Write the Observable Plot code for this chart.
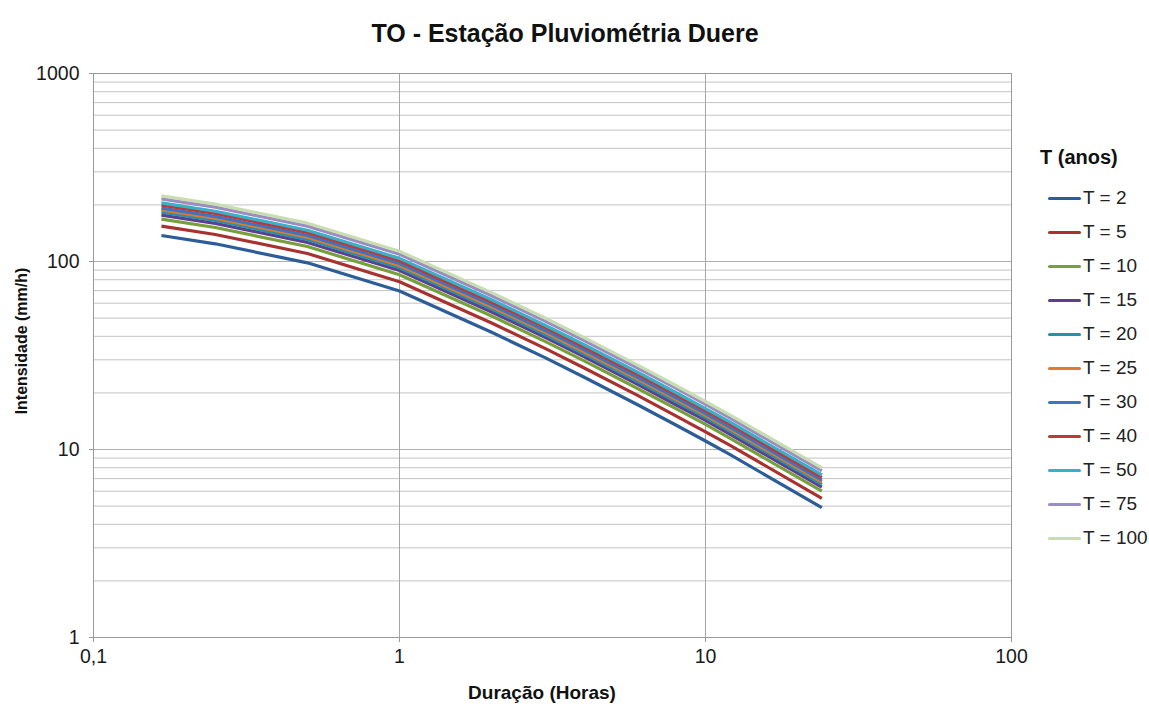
<!DOCTYPE html>
<html>
<head>
<meta charset="utf-8">
<script src="https://cdn.jsdelivr.net/npm/d3@7"></script>
<script src="https://cdn.jsdelivr.net/npm/@observablehq/plot@0.6"></script>
<style>
  body { margin: 0; background: #fff; font-family: "Liberation Sans", Arial, sans-serif; }
  #wrap { position: relative; width: 1149px; height: 706px; overflow: hidden; }
  #chart { position: absolute; left: 0; top: 0; }
  .title { position: absolute; left: 565px; top: 33px; transform: translate(-50%, -50%); font-weight: bold; font-size: 25px; color: #111; white-space: nowrap; }
  .ytitle { position: absolute; left: 22px; top: 341px; transform: translate(-50%, -50%) rotate(-90deg); font-weight: bold; font-size: 16px; color: #111; white-space: nowrap; }
  .xtitle { position: absolute; left: 542px; top: 693px; transform: translate(-50%, -50%); font-weight: bold; font-size: 19px; color: #111; white-space: nowrap; }
  #legend { position: absolute; left: 1040px; top: 146px; }
  .lgtitle { font-weight: bold; font-size: 20px; color: #111; white-space: nowrap; }
  .lgitem { position: absolute; left: 8px; height: 20px; display: flex; align-items: center; font-size: 19px; color: #222; white-space: nowrap; }
  .sw { width: 33px; height: 3px; border-radius: 1.5px; margin-right: 2px; }
</style>
</head>
<body>
<div id="wrap">
  <div id="chart"></div>
  <div class="title">TO - Estação Pluviométria Duere</div>
  <div class="ytitle">Intensidade (mm/h)</div>
  <div class="xtitle">Duração (Horas)</div>
  <div id="legend"></div>
</div>
<script>
// Durations (hours): 10, 15, 30 min, 1, 2, 3, 4, 6, 8, 10, 12, 24 h
const durations = [0.1667, 0.25, 0.5, 1, 2, 3, 4, 6, 8, 10, 12, 24];

const seriesNames = ["T = 2", "T = 5", "T = 10", "T = 15", "T = 20", "T = 25", "T = 30", "T = 40", "T = 50", "T = 75", "T = 100"];
const seriesColors = ["#2c5d98", "#a8322f", "#77a03c", "#5e3e8e", "#2b8fa8", "#e07b2c", "#3f74c2", "#b83b39", "#3aafc8", "#9c8cc4", "#c8ddb0"];

const T2   = [137.5, 124.2,  98.4,  69.7, 42.0, 30.7, 24.3, 17.3, 13.5, 11.1,  9.41, 4.91];
const T5   = [154.1, 139.2, 110.3,  78.1, 47.1, 34.4, 27.2, 19.4, 15.1, 12.4, 10.55, 5.50];
const T10  = [167.9, 151.6, 120.1,  85.1, 51.3, 37.5, 29.7, 21.1, 16.5, 13.6, 11.49, 6.00];
const T15  = [176.6, 159.5, 126.3,  89.5, 53.9, 39.4, 31.2, 22.2, 17.3, 14.3, 12.08, 6.30];
const T20  = [182.9, 165.2, 130.9,  92.7, 55.9, 40.8, 32.3, 23.0, 18.0, 14.8, 12.52, 6.53];
const T25  = [188.1, 169.9, 134.6,  95.3, 57.5, 42.0, 33.2, 23.7, 18.5, 15.2, 12.87, 6.72];
const T30  = [192.4, 173.8, 137.7,  97.5, 58.8, 42.9, 34.0, 24.2, 18.9, 15.5, 13.16, 6.87];
const T40  = [199.2, 180.0, 142.6, 101.0, 60.9, 44.5, 35.2, 25.1, 19.6, 16.1, 13.64, 7.11];
const T50  = [204.9, 185.1, 146.6, 103.9, 62.6, 45.7, 36.2, 25.8, 20.1, 16.5, 14.02, 7.32];
const T75  = [215.5, 194.6, 154.2, 109.2, 65.8, 48.1, 38.1, 27.1, 21.2, 17.4, 14.75, 7.69];
const T100 = [223.4, 201.8, 159.9, 113.3, 68.3, 49.9, 39.5, 28.1, 21.9, 18.0, 15.29, 7.98];

const xTicks = [0.1, 1, 10, 100];
const yTicks = [1, 10, 100, 1000];
const xTickLabels = ["0,1", "1", "10", "100"];
const yTickLabels = ["1", "10", "100", "1000"];

const allSeries = [T2, T5, T10, T15, T20, T25, T30, T40, T50, T75, T100];
const data = [];
allSeries.forEach((vals, i) => {
  vals.forEach((v, j) => data.push({ series: seriesNames[i], dur: durations[j], val: v }));
});

// minor horizontal gridlines (2..9 within each decade)
const yMinor = [];
yTicks.slice(0, -1).forEach(d => { for (let k = 2; k <= 9; k++) yMinor.push(d * k); });

const chart = Plot.plot({
  width: 1149,
  height: 706,
  marginLeft: 93,
  marginRight: 138,
  marginTop: 73,
  marginBottom: 69,
  style: { fontFamily: "'Liberation Sans', Arial, sans-serif", background: "transparent", color: "#1a1a1a" },
  x: { type: "log", domain: [0.1, 100] },
  y: { type: "log", domain: [1, 1000] },
  color: { domain: seriesNames, range: seriesColors },
  marks: [
    Plot.gridY(yMinor, { stroke: "#c4c4c4", strokeOpacity: 1, strokeWidth: 1 }),
    Plot.gridY(yTicks, { stroke: "#b0b0b0", strokeOpacity: 1, strokeWidth: 1 }),
    Plot.gridX(xTicks, { stroke: "#a6a6a6", strokeOpacity: 1, strokeWidth: 1 }),
    Plot.frame({ stroke: "#9a9a9a", strokeWidth: 1 }),
    Plot.axisX(xTicks, {
      tickFormat: d => xTickLabels[xTicks.indexOf(d)],
      tickSize: 5, tickPadding: 7, fontSize: 19.5, label: null, stroke: "#9a9a9a"
    }),
    Plot.axisY(yTicks, {
      tickFormat: d => yTickLabels[yTicks.indexOf(d)],
      tickSize: 4, tickPadding: 10, fontSize: 19.5, label: null, stroke: "#9a9a9a"
    }),
    Plot.line(data, {
      x: "dur", y: "val", z: "series", stroke: "series",
      strokeWidth: 3.2, curve: "linear", strokeLinejoin: "round", strokeLinecap: "butt"
    })
  ]
});
document.getElementById("chart").appendChild(chart);

// legend
const lg = document.getElementById("legend");
const t = document.createElement("div");
t.className = "lgtitle";
t.textContent = "T (anos)";
lg.appendChild(t);
seriesNames.forEach((name, i) => {
  const it = document.createElement("div");
  it.className = "lgitem";
  it.style.top = (42 + i * 34) + "px";
  const sw = document.createElement("div");
  sw.className = "sw";
  sw.style.background = seriesColors[i];
  const tx = document.createElement("span");
  tx.textContent = name;
  it.appendChild(sw);
  it.appendChild(tx);
  lg.appendChild(it);
});
</script>
</body>
</html>
